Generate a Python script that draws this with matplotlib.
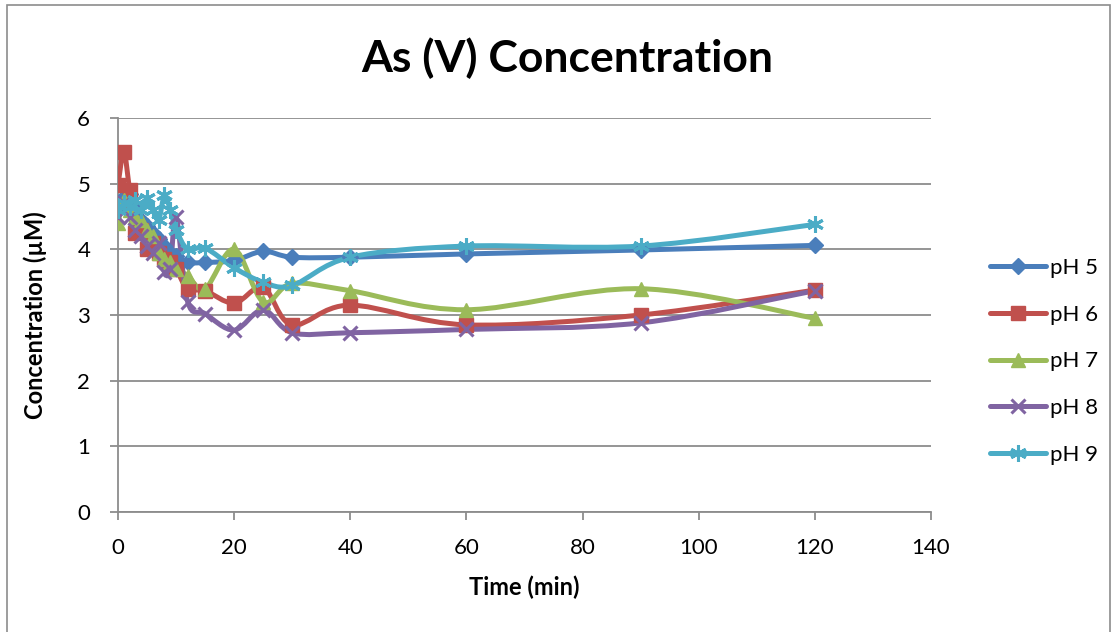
import numpy as np
import matplotlib
matplotlib.use("Agg")
import matplotlib.pyplot as plt
from matplotlib.path import Path
from matplotlib.patches import PathPatch, Rectangle
from matplotlib.lines import Line2D

# sampling times (min)
time = [0, 1, 2, 3, 4, 5, 6, 7, 8, 9, 10, 12, 15, 20, 25, 30, 40, 60, 90, 120]

ph5 = [4.60, 4.80, 4.85, 4.60, 4.45, 4.35, 4.25, 4.15, 4.05, 3.95, 3.90, 3.80, 3.80, 3.83, 3.97, 3.88, 3.88, 3.93, 3.99, 4.06]
ph6 = [4.98, 5.48, 4.90, 4.25, 4.30, 4.00, 4.10, 3.95, 3.85, 3.80, 3.70, 3.40, 3.37, 3.18, 3.42, 2.85, 3.15, 2.85, 3.00, 3.38]
ph7 = [4.40, 4.75, 4.60, 4.50, 4.45, 4.30, 4.20, 3.95, 3.85, 3.80, 3.70, 3.60, 3.40, 4.00, 3.20, 3.48, 3.37, 3.08, 3.40, 2.95]
ph8 = [4.50, 4.70, 4.50, 4.30, 4.20, 4.05, 3.95, 4.10, 3.65, 3.70, 4.50, 3.20, 3.02, 2.77, 3.08, 2.73, 2.73, 2.78, 2.88, 3.37]
ph9 = [4.60, 4.70, 4.65, 4.75, 4.60, 4.78, 4.60, 4.45, 4.82, 4.60, 4.30, 4.00, 4.02, 3.72, 3.50, 3.45, 3.88, 4.05, 4.05, 4.38]

labels = ["pH 5", "pH 6", "pH 7", "pH 8", "pH 9"]
series = [ph5, ph6, ph7, ph8, ph9]
colors = ["#4A7EBB", "#C0504D", "#9BBB59", "#8064A2", "#4BACC6"]
markers = ["D", "s", "^", "x", (6, 2, 0)]
msizes = [8, 10, 10, 10, 12]

plt.rcParams["font.family"] = ["Lato", "DejaVu Sans"]

fig = plt.figure(figsize=(11.19, 6.32), dpi=100)
ax = fig.add_axes([118 / 1119, 1 - 512 / 632, (931 - 118) / 1119, (512 - 118) / 632])

# chart border
fig.patches.append(Rectangle((7 / 1119, -0.05), 1103 / 1119, 1.05 - 5 / 632,
                             transform=fig.transFigure, fill=False,
                             edgecolor="#8c8c8c", lw=1.2))


def smooth_path(xs, ys, t=1 / 6):
    # cubic Bezier segments with Catmull-Rom style control points
    pts = np.column_stack([xs, ys]).astype(float)
    n = len(pts)
    verts = [pts[0]]
    codes = [Path.MOVETO]
    for i in range(n - 1):
        p0 = pts[max(i - 1, 0)]
        p1 = pts[i]
        p2 = pts[i + 1]
        p3 = pts[min(i + 2, n - 1)]
        c1 = p1 + (p2 - p0) * t
        c2 = p2 - (p3 - p1) * t
        verts += [c1, c2, p2]
        codes += [Path.CURVE4] * 3
    return Path(verts, codes)


def mew(m):
    return 2.2 if m in ("x", (6, 2, 0)) else 1


for ys, c, m, ms in zip(series, colors, markers, msizes):
    ax.add_patch(PathPatch(smooth_path(time, ys), fill=False, edgecolor=c,
                           lw=3.6, capstyle="round", joinstyle="round", zorder=3))
    ax.plot(time, ys, linestyle="none", marker=m, color=c, ms=ms,
            mew=mew(m), zorder=4)

ax.set_xlim(0, 140)
ax.set_ylim(0, 6)
ax.set_xticks(range(0, 141, 20))
ax.set_yticks(range(0, 7))
ax.grid(axis="y", color="#8c8c8c", lw=1.3)
ax.set_axisbelow(True)
for s in ["top", "right"]:
    ax.spines[s].set_visible(False)
for s in ["left", "bottom"]:
    ax.spines[s].set_color("#8c8c8c")
    ax.spines[s].set_linewidth(1.3)
ax.tick_params(axis="both", colors="#8c8c8c", length=6, width=1.3,
               labelsize=16, labelcolor="black")
ax.tick_params(axis="y", pad=14)
ax.tick_params(axis="x", pad=13)

ax.set_xlabel("Time (min)", fontsize=17, fontweight="bold", labelpad=12)
ax.set_ylabel("Concentration (µM)", fontsize=17, fontweight="bold", labelpad=22)
fig.text(567 / 1119, 1 - 58 / 632, "As (V) Concentration", fontsize=32,
         fontweight="bold", ha="center", va="center")

handles = [Line2D([0], [0], color=c, lw=3.6, marker=m, ms=ms,
                  mew=mew(m), solid_capstyle="round")
           for c, m, ms in zip(colors, markers, msizes)]
fig.legend(handles, labels, loc="upper left", bbox_to_anchor=(970 / 1119, 1 - 238 / 632),
           frameon=False, fontsize=16, handlelength=2.5, labelspacing=1.2,
           handletextpad=0.2)

fig.savefig("out.png", dpi=100)
